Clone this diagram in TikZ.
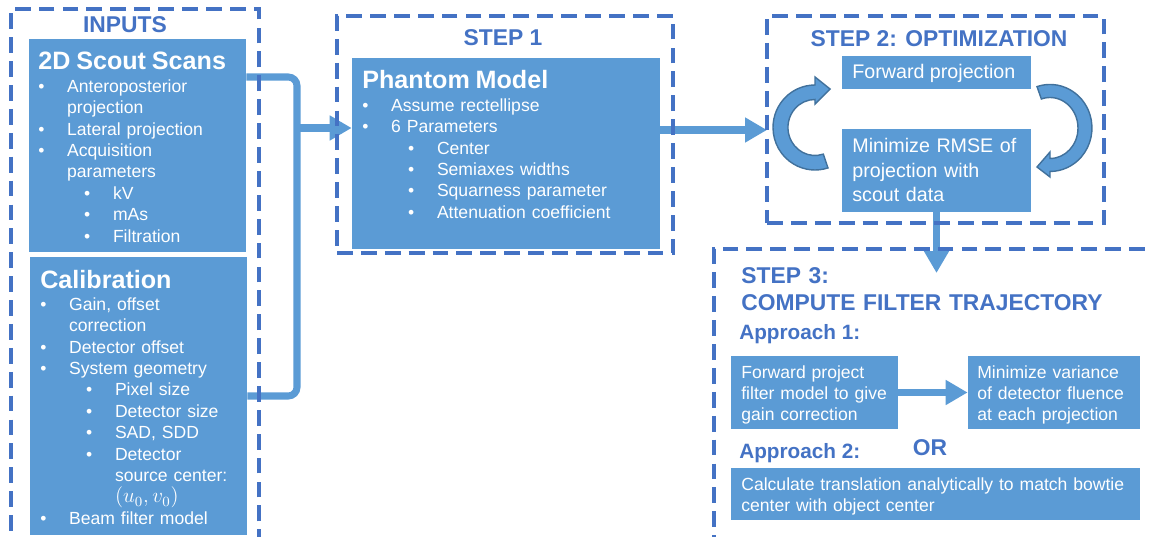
\documentclass[tikz,border=0pt]{standalone}
\usepackage{fontspec}
\setmainfont{Liberation Sans}
\usepackage{tikz}
\usetikzlibrary{arrows.meta,fit}
\definecolor{boxblue}{HTML}{5B9BD5}
\definecolor{dashblue}{HTML}{4472C4}
\definecolor{rimblue}{HTML}{41719C}
% heading inside a filled box
\newcommand{\boxhead}{\fontsize{14.3}{14.3}\selectfont\bfseries}
% bullet lines: first level, its continuation, second level, its continuation
\newcommand{\bul}[1]{\makebox[16.4pt][l]{\textbullet}#1}
\newcommand{\bulc}[1]{\hspace*{16.4pt}#1}
\newcommand{\subbul}[1]{\hspace*{26pt}\makebox[16.5pt][l]{\textbullet}#1}
\newcommand{\subbulc}[1]{\hspace*{42.5pt}#1}

\begin{document}
\begin{tikzpicture}[x=0.02cm,y=0.02cm,
  panel/.style={fill=boxblue,inner sep=0pt},
  stepframe/.style={draw=dashblue,line width=2pt,dash pattern=on 9pt off 4.6pt,inner sep=0pt},
  steptitle/.style={text=dashblue,inner sep=0pt,font=\fontsize{13}{15.9}\selectfont\bfseries},
  apphead/.style={text=dashblue,inner sep=0pt,font=\fontsize{11.8}{14}\selectfont\bfseries},
  paneltext/.style={text=white,inner sep=0pt,align=left,font=\fontsize{10}{12.17}\selectfont},
  link/.style={draw=boxblue,line width=4pt},
  flow/.style={link,-{Triangle[length=12.5pt,width=13.5pt]}},
  turnarrow/.style={fill=boxblue,draw=rimblue,line width=0.8pt}]
\useasboundingbox (0,0) rectangle (1150,-537);

% inputs
\path (125,-25) node[steptitle] (inputstitle) {INPUTS};
\node[panel,fit={(29,-39) (246,-252)}] (scout) {};
\node[paneltext,text width=4.3cm,anchor=base west] (scouttxt) at (38,-70) {%
  {\boxhead 2D Scout Scans}\\[0.6pt]
  \bul{Anteroposterior}\\
  \bulc{projection}\\
  \bul{Lateral projection}\\
  \bul{Acquisition}\\
  \bulc{parameters}\\
  \subbul{kV}\\
  \subbul{mAs}\\
  \subbul{Filtration}};

\node[panel,fit={(30,-257) (247,-535)}] (calib) {};
\node[paneltext,text width=4.3cm,anchor=base west] (calibtxt) at (40,-288) {%
  {\boxhead Calibration}\\[0.6pt]
  \bul{Gain, offset}\\
  \bulc{correction}\\
  \bul{Detector offset}\\
  \bul{System geometry}\\
  \subbul{Pixel size}\\
  \subbul{Detector size}\\
  \subbul{SAD, SDD}\\
  \subbul{Detector}\\
  \subbulc{source center:}\\
  \subbulc{{\large$(u_0,v_0)$}}\\
  \bul{Beam filter model}};

% step 1
\path (503,-38) node[steptitle] (step1title) {STEP 1};
\node[panel,fit={(352,-58) (660,-249)}] (phantom) {};
\node[paneltext,text width=5.8cm,anchor=base west] (phantomtxt) at (362,-89) {%
  {\boxhead Phantom Model}\\[0.6pt]
  \bul{Assume rectellipse}\\
  \bul{6 Parameters}\\
  \subbul{Center}\\
  \subbul{Semiaxes widths}\\
  \subbul{Squarness parameter}\\
  \subbul{Attenuation coefficient}};

% step 2
\path (939,-39) node[steptitle] (step2title) {STEP 2: OPTIMIZATION};
\node[panel,fit={(842,-56) (1031,-89)}] (fwd) {};
\node[paneltext,anchor=base west,font=\fontsize{11.2}{13.9}\selectfont] (fwdtxt) at (852,-79) {Forward projection};
\node[panel,fit={(842,-129) (1031,-212)}] (rmse) {};
\node[paneltext,text width=3.9cm,anchor=base west,font=\fontsize{11.2}{13.9}\selectfont] (rmsetxt) at (852,-153) {%
  Minimize RMSE of\\
  projection with\\
  scout data};

% loop arrows
\draw[turnarrow] (815,-85) arc[start angle=90,end angle=288,x radius=42,y radius=42.5]
  -- (823.3,-154.1) arc[start angle=288,end angle=90,x radius=27,y radius=28]
  -- (815,-104) -- (830,-89) -- (815,-77) -- cycle;
\draw[turnarrow] (1037,-86.6) arc[start angle=108,end angle=-90,x radius=42,y radius=43.5]
  -- (1050,-177) -- (1037,-167) -- (1050,-152)
  -- (1050,-158.5) arc[start angle=-90,end angle=108,x radius=28,y radius=30.5] -- cycle;

% step 3
\node[steptitle,text width=8cm,align=left,anchor=base west] (step3title) at (741,-283) {%
  STEP 3:\\
  COMPUTE FILTER TRAJECTORY};
\node[apphead,anchor=base west] (app1) at (739,-339) {Approach 1:};
\node[panel,fit={(731,-356) (898,-429)}] (fproj) {};
\node[paneltext,text width=3.4cm,anchor=base west] (fprojtxt) at (741,-378) {%
  Forward project\\
  filter model to give\\
  gain correction};
\node[panel,fit={(968,-356) (1140,-429)}] (minvar) {};
\node[paneltext,text width=3.4cm,anchor=base west] (minvartxt) at (977,-378) {%
  Minimize variance\\
  of detector fluence\\
  at each projection};
\path (930,-448) node[steptitle] (ortxt) {OR};
\node[apphead,anchor=base west] (app2) at (739,-458) {Approach 2:};
\node[panel,fit={(731,-468) (1140,-520)}] (calc) {};
\node[paneltext,text width=8.5cm,anchor=base west] (calctxt) at (741,-490) {%
  Calculate translation analytically to match bowtie\\
  center with object center};

% connectors
\coordinate (jn) at (297,-128);
\coordinate (s2in) at (767,-130);
\coordinate (s3in) at (rmse.south |- 0,-273);
\draw[link,rounded corners=5] (scout.east |- 0,-77) -| (jn) |- (calib.east |- 0,-396);
\draw[flow] (jn) -- (phantom.west |- jn);
\draw[flow] (phantom.east |- s2in) -- (s2in);
\draw[flow] (rmse.south) -- (s3in);
\draw[flow] (fproj) -- (minvar);

% dashed frames on top
\node[stepframe,fit={(11,-9) (259,-560)}] (inputs) {};
\node[stepframe,fit={(337,-16) (673,-253)}] (step1) {};
\node[stepframe,fit={(767,-16) (1104,-223)}] (step2) {};
\node[stepframe,fit={(714,-249) (1180,-560)}] (step3) {};
\end{tikzpicture}
\end{document}
